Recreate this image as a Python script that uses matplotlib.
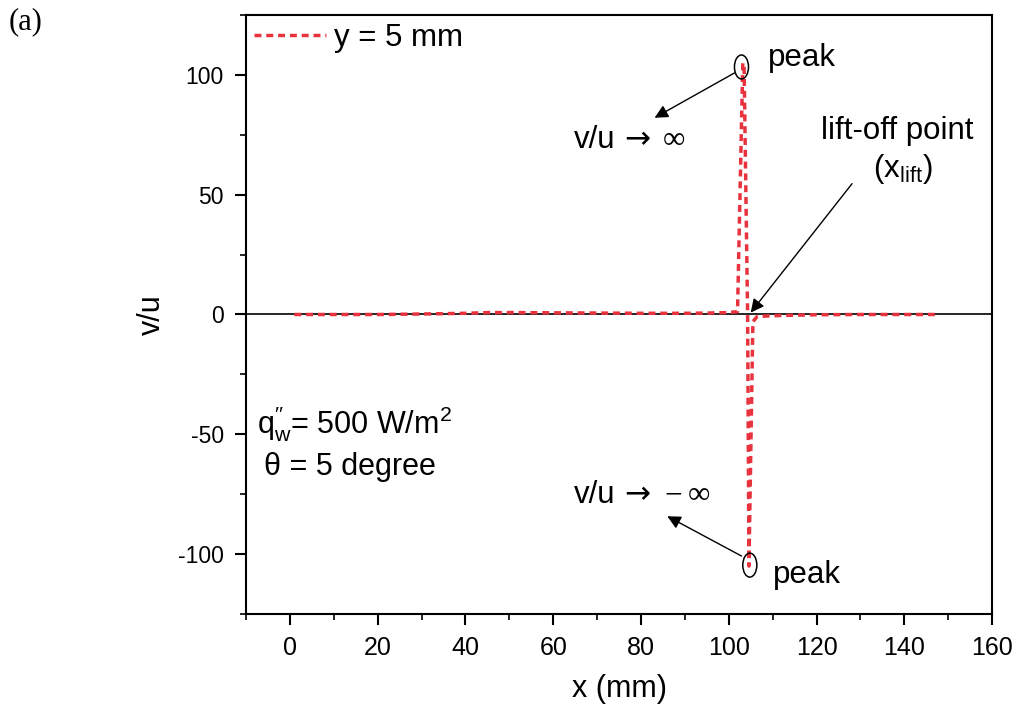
import matplotlib
matplotlib.use("Agg")
import matplotlib.pyplot as plt
from matplotlib.patches import Ellipse

plt.rcParams['font.family'] = ['Liberation Sans', 'DejaVu Sans']
plt.rcParams['mathtext.fontset'] = 'custom'
plt.rcParams['mathtext.rm'] = 'Liberation Sans'
plt.rcParams['mathtext.it'] = 'Liberation Sans'

# velocity ratio v/u along the wall at y = 5 mm
x_mm = [1, 5, 10, 20, 30, 40, 45, 50, 60, 70, 80, 90, 95, 100, 102.0,
        103.2, 103.5, 104.3, 104.6, 105.5, 106.5, 108, 110, 115, 120, 130, 140, 147]
v_u = [0, 0, 0, 0, 0.2, 0.5, 0.8, 0.8, 0.7, 0.6, 0.5, 0.5, 0.6, 0.8, 1.2,
       105, 103, 0, -105, -3, -0.8, -0.7, -0.5, -0.3, -0.1, 0, 0, 0]

x_ticks = [0, 20, 40, 60, 80, 100, 120, 140, 160]
y_ticks = [-100, -50, 0, 50, 100]
y_tick_labels = ['-100', '-50', '0', '50', '100']

red = '#e8333f'
fs = 22.5

fig = plt.figure(figsize=(10.18, 7.10), dpi=100)
ax = fig.add_axes([0.2417, 0.1352, 0.7328, 0.8437])

ax.axhline(0, color='black', lw=1.2, zorder=1)
ax.plot(x_mm, v_u, color=red, lw=2.5, dashes=(2.0, 1.4), label='y = 5 mm', zorder=2)

ax.set_xlim(-10, 160)
ax.set_ylim(-125, 125)
ax.set_xticks(x_ticks)
ax.set_xticks(range(-10, 161, 10), minor=True)
ax.set_yticks(y_ticks)
ax.set_yticklabels(y_tick_labels)
ax.set_yticks(range(-125, 126, 25), minor=True)
ax.tick_params(which='major', direction='out', length=8, width=1.5, pad=8)
ax.tick_params(axis='x', labelsize=18)
ax.tick_params(axis='y', labelsize=16.5)
ax.tick_params(which='minor', direction='out', length=4.5, width=1.2)
for s in ax.spines.values():
    s.set_linewidth(1.5)

ax.set_xlabel('x (mm)', fontsize=22, labelpad=10)
ax.set_ylabel('v/u', fontsize=22, labelpad=8)

ax.legend(loc='upper left', frameon=False, fontsize=fs, handlelength=2.3,
          borderaxespad=0.05, handletextpad=0.26, borderpad=0.2)

# peak markers
ax.add_patch(Ellipse((102.9, 103.3), 3.2, 10, fill=False, lw=1.1, ec='black', zorder=3))
ax.add_patch(Ellipse((104.8, -104.6), 3.2, 10, fill=False, lw=1.1, ec='black', zorder=3))

arrow = dict(arrowstyle='-|>', color='black', lw=1.0, mutation_scale=20, shrinkA=0, shrinkB=0)
ax.annotate('', xy=(83.1, 82.1), xytext=(101.3, 100.8), arrowprops=arrow)
ax.annotate('', xy=(86.0, -84.2), xytext=(102.9, -100.8), arrowprops=arrow)
ax.annotate('', xy=(105.0, 0.8), xytext=(128.1, 54.6), arrowprops=arrow)

# v/u -> infinity labels
ax.text(64.8, 69.6, 'v/u', fontsize=fs, ha='left', va='baseline')
ax.text(76.2, 69.6, '\u2192', fontsize=fs, ha='left', va='baseline', family=['DejaVu Sans'])
ax.text(84.9, 69.6, '\u221e', fontsize=fs, ha='left', va='baseline', family=['Liberation Serif'])
ax.text(64.8, -78.75, 'v/u', fontsize=fs, ha='left', va='baseline')
ax.text(76.2, -78.75, '\u2192', fontsize=fs, ha='left', va='baseline', family=['DejaVu Sans'])
ax.text(85.4, -78.75, '\u2212', fontsize=fs, ha='left', va='baseline', family=['Liberation Serif'])
ax.text(90.6, -78.75, '\u221e', fontsize=fs, ha='left', va='baseline', family=['Liberation Serif'])

ax.text(108.9, 107, 'peak', fontsize=fs, ha='left', va='center')
ax.text(110.0, -108.8, 'peak', fontsize=fs, ha='left', va='center')
ax.text(138.5, 76.7, 'lift-off point', fontsize=fs, ha='center', va='center')
ax.text(139.7, 60.8, r'(x$_{\mathrm{lift}}$)', fontsize=fs, ha='center', va='center')

ax.text(-7.5, -49.6, r"q$_{\mathrm{w}}^{\prime\prime}$= 500 W/m$^{2}$", fontsize=22,
        ha='left', va='baseline')
ax.text(-5.9, -67.1, '\u03b8 = 5 degree', fontsize=22, ha='left', va='baseline')

fig.text(0.008, 0.969, '(a)', fontsize=22, ha='left', va='center',
         family=['Liberation Serif', 'DejaVu Serif'])

fig.savefig('out.png', dpi=100)
